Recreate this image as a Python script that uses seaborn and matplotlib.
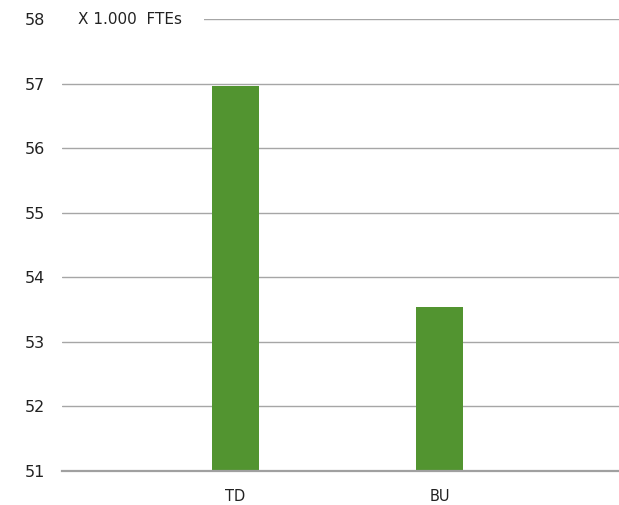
import matplotlib
matplotlib.use("Agg")
import matplotlib.pyplot as plt
import seaborn as sns
import pandas as pd

categories = ["TD", "BU"]
values = [56.97, 53.54]
y_ticks = [51, 52, 53, 54, 55, 56, 57, 58]
unit_label = "X 1.000  FTEs"

sns.set_theme(style="white")
plt.rcParams['font.family'] = ['DejaVu Sans']

df = pd.DataFrame({"cat": categories, "val": values})

fig = plt.figure(figsize=(6.19, 5.05), dpi=100)
ax = fig.add_axes([62/619, 1-471/505, 1-62/619, (471-19)/505])

sns.barplot(data=df, x="cat", y="val", color="#529430", saturation=1,
            width=0.23, edgecolor="none", ax=ax, zorder=3)

ax.set_ylim(51, 58)
ax.set_xlim(-0.85, 1.88)
ax.set_yticks(y_ticks)
ax.set_yticklabels([str(t) for t in y_ticks], fontsize=11.5, color="#222222")
ax.tick_params(axis="y", length=0, pad=12)
ax.tick_params(axis="x", length=0, pad=13, labelsize=10.5, labelcolor="#222222")
ax.set_xlabel("")
ax.set_ylabel("")

for t in y_ticks[1:]:
    ax.axhline(t, color="#a6a6a6", linewidth=1.0, zorder=1)

for s in ["top", "right", "left"]:
    ax.spines[s].set_visible(False)
ax.spines["bottom"].set_color("#a0a0a0")
ax.spines["bottom"].set_linewidth(1.6)
ax.spines["bottom"].set_zorder(4)

ax.text(78/619, 1 - 19/505, unit_label, transform=fig.transFigure,
        fontsize=11, color="#222222", va="center", ha="left",
        bbox=dict(facecolor="white", edgecolor="none", pad=16), zorder=5)

fig.savefig("out.png", dpi=100)
